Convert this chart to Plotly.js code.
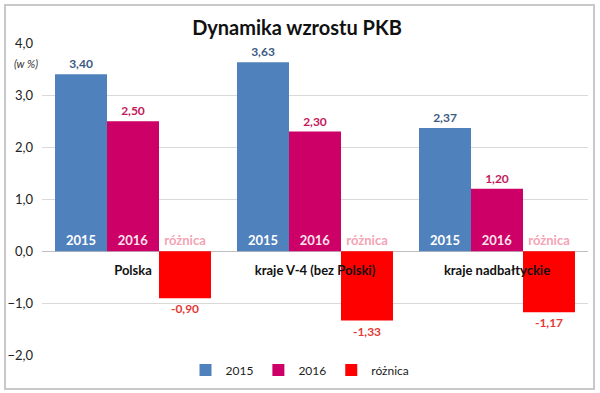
<!DOCTYPE html>
<html><head><meta charset="utf-8">
<script src="https://cdn.plot.ly/plotly-3.0.1.min.js"></script>
<style>
body{margin:0;padding:0;background:#fff;}
#chart{width:600px;height:393px;}
#frame{position:absolute;left:4px;top:4px;width:587px;height:382px;border:2px solid #c8c8c8;pointer-events:none;}
</style></head>
<body>
<div id="chart"></div><div id="frame"></div>
<script>
const categories = ['Polska', 'kraje V-4 (bez Polski)', 'kraje nadbałtyckie'];
const seriesNames = ['2015', '2016', 'różnica'];
const v2015 = [3.40, 3.63, 2.37];
const v2016 = [2.50, 2.30, 1.20];
const vDiff = [-0.90, -1.33, -1.17];
const yTicks = [-2, -1, 0, 1, 2, 3, 4];

const barColors = ['#4F81BD', '#CC0066', '#FF0000'];
const valueColors = ['#3C5A82', '#C2185B', '#E53935'];
const nameColors = ['#FFFFFF', '#FCE4EC', '#F4A3B4'];
const seriesValues = [v2015, v2016, vDiff];
const FONT = 'Lato, "Open Sans", sans-serif';

const traces = [];
seriesValues.forEach((vals, i) => {
  traces.push({
    type: 'bar', name: seriesNames[i], x: categories, y: vals,
    xaxis: 'x', yaxis: 'y',
    marker: {color: barColors[i]},
    texttemplate: '%{y:.2f}', textposition: 'outside', cliponaxis: false,
    textfont: {family: FONT, size: 12, color: valueColors[i], weight: 'bold'},
    hoverinfo: 'skip'
  });
});
seriesValues.forEach((vals, i) => {
  traces.push({
    type: 'bar', name: seriesNames[i] + ' label', showlegend: false,
    x: categories, y: vals.map(() => 0),
    xaxis: 'x2', yaxis: 'y',
    marker: {color: 'rgba(0,0,0,0)'},
    text: vals.map(() => seriesNames[i]), textposition: 'outside', cliponaxis: false,
    textfont: {family: FONT, size: 13, color: nameColors[i], weight: 'bold'},
    hoverinfo: 'skip'
  });
});

const yMin = -2, yMax = 4;
const layout = {
  width: 600, height: 393,
  margin: {l: 42, r: 12, t: 43, b: 37},
  paper_bgcolor: '#fff', plot_bgcolor: '#fff',
  separators: ', ',
  barmode: 'group', bargap: 0.143, bargroupgap: 0,
  font: {family: FONT, color: '#222'},
  title: {text: '<b>Dynamika wzrostu PKB</b>', x: 0.495, xanchor: 'center', y: 0.93, yanchor: 'middle',
          font: {family: FONT, size: 20, color: '#111'}},
  xaxis: {type: 'category', anchor: 'free', position: (0 - yMin) / (yMax - yMin),
          showgrid: false, showline: false, ticks: '', zeroline: false, automargin: false,
          tickfont: {family: FONT, size: 13, color: '#111', weight: 'bold'}, ticklabelstandoff: 10},
  xaxis2: {type: 'category', overlaying: 'x', anchor: 'y', visible: false},
  yaxis: {range: [yMin, yMax], tickvals: yTicks, tickformat: '.1f', automargin: false,
          showgrid: true, gridcolor: '#D9D9D9', gridwidth: 1,
          zeroline: true, zerolinecolor: '#BFBFBF', zerolinewidth: 1,
          showline: false, ticks: '', ticklabelstandoff: 8,
          tickfont: {family: FONT, size: 13, color: '#222'}},
  legend: {orientation: 'h', x: 0.5, xanchor: 'center', xref: 'container',
           y: 1 - 370 / 393, yanchor: 'middle', yref: 'container',
           font: {family: FONT, size: 12, color: '#222'},
           itemwidth: 30, traceorder: 'normal'},
  annotations: [{text: '<i>(w %)</i>', xref: 'paper', yref: 'paper', x: -0.03, y: 0.935,
                 xanchor: 'center', yanchor: 'middle', showarrow: false,
                 font: {family: FONT, size: 11, color: '#333'}}]
};
Plotly.newPlot('chart', traces, layout, {displayModeBar: false, staticPlot: true});
</script>
</body></html>
